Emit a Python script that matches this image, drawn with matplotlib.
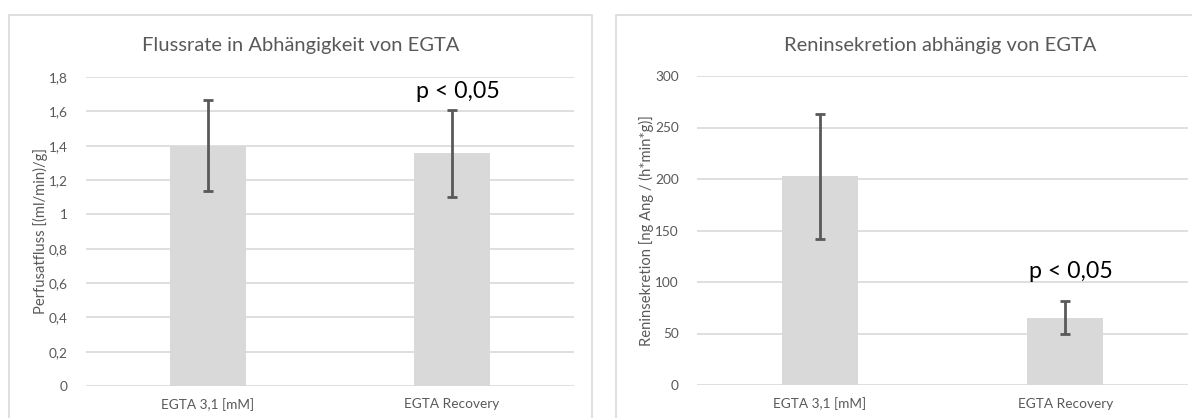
import matplotlib
matplotlib.use("Agg")
import matplotlib.pyplot as plt
from matplotlib.patches import Rectangle

plt.rcParams['font.family'] = ['Lato', 'DejaVu Sans']

# ---- data ----
categories = ["EGTA 3,1 [mM]", "EGTA Recovery"]

flow_values = [1.40, 1.355]
flow_errors = [0.265, 0.255]
flow_yticks = [0, 0.2, 0.4, 0.6, 0.8, 1.0, 1.2, 1.4, 1.6, 1.8]
flow_yticklabels = ["0", "0,2", "0,4", "0,6", "0,8", "1", "1,2", "1,4", "1,6", "1,8"]

renin_values = [202.6, 65.5]
renin_errors = [60.5, 16.0]
renin_yticks = [0, 50, 100, 150, 200, 250, 300]
renin_yticklabels = ["0", "50", "100", "150", "200", "250", "300"]

p_text = "p < 0,05"

# ---- style ----
W, H = 1192, 418
GRID = "#d9d9d9"
BAR = "#d9d9d9"
TXT = "#595959"
ERR = "#595959"

fig = plt.figure(figsize=(W / 100, H / 100), dpi=100)

def fx(px):
    return px / W

def fy(py):
    return (H - py) / H

# panel borders
for x0, x1 in [(9, 592), (616, 1215)]:
    fig.patches.append(Rectangle((fx(x0), fy(440)), fx(x1 - x0), (440 - 15) / H,
                                 transform=fig.transFigure, fill=False,
                                 edgecolor=GRID, linewidth=1.2, zorder=0))

def make_panel(left_px, right_px, top_px, bottom_px, values, errors, yticks, yticklabels,
               ylabel, title, title_center_px, p_y, labelpad):
    ax = fig.add_axes([fx(left_px), fy(bottom_px), fx(right_px - left_px),
                       (bottom_px - top_px) / H])
    x = list(range(len(categories)))
    ax.bar(x, values, width=0.31, color=BAR, zorder=2)
    ax.errorbar(x, values, yerr=errors, fmt='none', ecolor=ERR, elinewidth=2,
                capsize=3.5, capthick=2, zorder=3)
    ax.set_xlim(-0.5, len(categories) - 0.5)
    ax.set_ylim(yticks[0], yticks[-1])
    ax.set_yticks(yticks)
    ax.set_yticklabels(yticklabels)
    ax.set_xticks(x)
    ax.set_xticklabels(categories)
    ax.yaxis.grid(True, color=GRID, linewidth=1.2, zorder=0)
    ax.set_axisbelow(True)
    for s in ax.spines.values():
        s.set_visible(False)
    ax.tick_params(axis='both', length=0, labelsize=9.8, labelcolor=TXT)
    ax.tick_params(axis='y', pad=13)
    ax.tick_params(axis='x', pad=9)
    ax.set_ylabel(ylabel, fontsize=10.6, color=TXT, labelpad=labelpad)
    ax.annotate(p_text, xy=(1, p_y), xytext=(6, 0), textcoords='offset pixels',
                ha='center', va='baseline', fontsize=16.7, color='black', zorder=4)
    fig.text(fx(title_center_px), fy(51), title, ha='center', va='baseline',
             fontsize=14.5, color=TXT)
    return ax

make_panel(86, 574, 77, 386, flow_values, flow_errors, flow_yticks, flow_yticklabels,
           "Perfusatfluss [(ml/min)/g]", "Flussrate in Abhängigkeit von EGTA", 301, 1.675, 1)
make_panel(697, 1188, 76, 385, renin_values, renin_errors, renin_yticks, renin_yticklabels,
           "Reninsekretion [ng Ang / (h*min*g)]", "Reninsekretion abhängig von EGTA", 940, 103.6, 1)

fig.savefig("out.png", dpi=100)
